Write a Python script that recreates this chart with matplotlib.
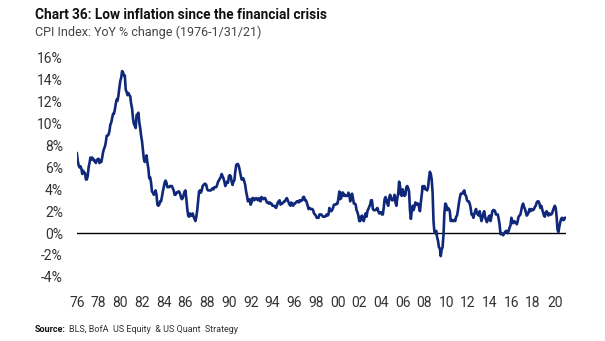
import numpy as np
import matplotlib
matplotlib.use("Agg")
import matplotlib.pyplot as plt

# CPI YoY % change, monthly, Jan 1976 - Jan 2021
cpi_1970s = [
    7.3, 6.6, 6.2, 6.0, 6.1, 5.9, 5.4, 5.7, 5.5, 5.5, 4.9, 4.9,   # 1976
    5.2, 6.0, 6.4, 6.9, 6.7, 6.9, 6.8, 6.6, 6.6, 6.4, 6.7, 6.7,   # 1977
    6.8, 6.4, 6.6, 6.5, 6.9, 7.4, 7.7, 7.9, 8.3, 8.9, 8.9, 9.0,   # 1978
    9.3, 9.9, 10.1, 10.5, 10.9, 10.9, 11.3, 11.8, 12.2, 12.1, 12.6, 13.3,  # 1979
]
cpi_1980s = [
    13.9, 14.2, 14.8, 14.7, 14.4, 14.4, 13.1, 12.9, 12.6, 12.8, 12.6, 12.5,
    11.8, 11.4, 10.5, 10.0, 9.8, 9.6, 10.8, 10.8, 11.0, 10.1, 9.6, 8.9,
    8.4, 7.6, 6.8, 6.5, 6.7, 7.1, 6.4, 5.9, 5.0, 5.1, 4.6, 3.8,
    3.7, 3.5, 3.6, 3.9, 3.5, 2.6, 2.5, 2.6, 2.9, 2.9, 3.3, 3.8,
    4.2, 4.6, 4.8, 4.6, 4.2, 4.2, 4.2, 4.3, 4.3, 4.3, 4.1, 3.9,
    3.5, 3.5, 3.7, 3.7, 3.8, 3.8, 3.6, 3.3, 3.1, 3.2, 3.5, 3.8,
    3.9, 3.1, 2.2, 1.6, 1.5, 1.8, 1.6, 1.6, 1.8, 1.5, 1.3, 1.1,
    1.5, 2.1, 3.0, 3.8, 3.9, 3.7, 3.9, 4.3, 4.4, 4.5, 4.5, 4.4,
    4.0, 3.9, 3.9, 3.9, 3.9, 4.0, 4.1, 4.0, 4.2, 4.2, 4.2, 4.4,
    4.7, 4.8, 5.0, 5.1, 5.4, 5.2, 5.0, 4.7, 4.3, 4.5, 4.7, 4.6,
]
cpi_1990s = [
    5.2, 5.3, 5.2, 4.7, 4.4, 4.7, 4.8, 5.6, 6.2, 6.3, 6.3, 6.1,
    5.7, 5.3, 4.9, 4.9, 5.0, 4.7, 4.4, 3.8, 3.4, 2.9, 3.0, 3.1,
    2.6, 2.8, 3.2, 3.2, 3.0, 3.1, 3.2, 3.1, 3.0, 3.2, 3.0, 2.9,
    3.3, 3.2, 3.1, 3.2, 3.2, 3.0, 2.8, 2.8, 2.7, 2.8, 2.7, 2.7,
    2.5, 2.5, 2.5, 2.4, 2.3, 2.5, 2.8, 2.9, 3.0, 2.6, 2.7, 2.7,
    2.8, 2.9, 2.9, 3.1, 3.2, 3.0, 2.8, 2.6, 2.5, 2.8, 2.6, 2.5,
    2.7, 2.7, 2.8, 2.9, 2.9, 2.8, 3.0, 2.9, 3.0, 3.0, 3.3, 3.3,
    3.0, 3.0, 2.8, 2.5, 2.2, 2.3, 2.2, 2.2, 2.2, 2.1, 1.8, 1.7,
    1.6, 1.4, 1.4, 1.4, 1.7, 1.7, 1.7, 1.6, 1.5, 1.5, 1.5, 1.6,
    1.7, 1.6, 1.7, 2.3, 2.1, 2.0, 2.1, 2.3, 2.6, 2.6, 2.6, 2.7,
]
cpi_2000s = [
    2.7, 3.2, 3.8, 3.1, 3.2, 3.7, 3.7, 3.4, 3.5, 3.4, 3.4, 3.4,
    3.7, 3.5, 2.9, 3.3, 3.6, 3.2, 2.7, 2.7, 2.6, 2.1, 1.9, 1.6,
    1.1, 1.1, 1.5, 1.6, 1.2, 1.1, 1.5, 1.8, 1.5, 2.0, 2.2, 2.4,
    2.6, 3.0, 3.0, 2.2, 2.1, 2.1, 2.1, 2.2, 2.3, 2.0, 1.8, 1.9,
    1.9, 1.7, 1.7, 2.3, 3.1, 3.3, 3.0, 2.7, 2.5, 3.2, 3.5, 3.3,
    3.0, 3.0, 3.1, 3.5, 2.8, 2.5, 3.2, 3.6, 4.7, 4.3, 3.5, 3.4,
    4.0, 3.6, 3.4, 3.5, 4.2, 4.3, 4.1, 3.8, 2.1, 1.3, 2.0, 2.5,
    2.1, 2.4, 2.8, 2.6, 2.7, 2.7, 2.4, 2.0, 2.8, 3.5, 4.3, 4.1,
    4.3, 4.0, 4.0, 3.9, 4.2, 5.0, 5.6, 5.4, 4.9, 3.7, 1.1, 0.1,
    0.0, 0.2, -0.4, -0.7, -1.3, -1.4, -2.1, -1.5, -1.3, -0.2, 1.8, 2.7,
]
cpi_2010s = [
    2.6, 2.1, 2.3, 2.2, 2.0, 1.1, 1.2, 1.1, 1.1, 1.2, 1.1, 1.5,
    1.6, 2.1, 2.7, 3.2, 3.6, 3.6, 3.6, 3.8, 3.9, 3.5, 3.4, 3.0,
    2.9, 2.9, 2.7, 2.3, 1.7, 1.7, 1.4, 1.7, 2.0, 2.2, 1.8, 1.7,
    1.6, 2.0, 1.5, 1.1, 1.4, 1.8, 2.0, 1.5, 1.2, 1.0, 1.2, 1.5,
    1.6, 1.1, 1.5, 2.0, 2.1, 2.1, 2.0, 1.7, 1.7, 1.7, 1.3, 0.8,
    -0.1, 0.0, -0.1, -0.2, 0.0, 0.1, 0.2, 0.2, 0.0, 0.2, 0.5, 0.7,
    1.4, 1.0, 0.9, 1.1, 1.0, 1.0, 0.8, 1.1, 1.5, 1.6, 1.7, 2.1,
    2.5, 2.7, 2.4, 2.2, 1.9, 1.6, 1.7, 1.9, 2.2, 2.0, 2.2, 2.1,
    2.1, 2.2, 2.4, 2.5, 2.8, 2.9, 2.9, 2.7, 2.3, 2.5, 2.2, 1.9,
    1.6, 1.5, 1.9, 2.0, 1.8, 1.6, 1.8, 1.7, 1.7, 1.8, 2.1, 2.3,
]
cpi_2020s = [
    2.5, 2.3, 1.5, 0.3, 0.1, 0.6, 1.0, 1.3, 1.4, 1.2, 1.2, 1.4,
    1.4,
]

start_year = 1976
tick_years = list(range(1976, 2021, 2))
tick_labels = [f"{y % 100:02d}" for y in tick_years]
y_ticks = list(range(-4, 17, 2))

cpi = np.array(cpi_1970s + cpi_1980s + cpi_1990s + cpi_2000s + cpi_2010s + cpi_2020s)
t = start_year + np.arange(len(cpi)) / 12.0

navy = "#10287a"
plt.rcParams["font.family"] = ["Roboto", "DejaVu Sans"]

fig = plt.figure(figsize=(6.05, 3.41), dpi=100)
ax = fig.add_axes([0.127, 0.188, 0.808, 0.642])

ax.plot(t, cpi, color=navy, lw=1.9, solid_joinstyle="round")
ax.axhline(0, color="black", lw=1.0, zorder=0)

ax.set_xlim(start_year, t[-1])
ax.set_ylim(-4, 16)
ax.set_yticks(y_ticks)
ax.set_yticklabels([f"{v}%" for v in y_ticks], fontsize=10, color="#333333")
ax.set_xticks(tick_years)
ax.set_xticklabels(tick_labels, fontsize=10, color="#333333")
ax.tick_params(axis="y", length=0, pad=10)
ax.tick_params(axis="x", length=0, pad=14)
for s in ax.spines.values():
    s.set_visible(False)

fig.text(0.058, 0.955, "Chart 36: Low inflation since the financial crisis",
         fontsize=9.8, fontweight="bold", color="#111111", va="center")
fig.text(0.058, 0.905, "CPI Index: YoY % change (1976-1/31/21)",
         fontsize=9, color="#444444", va="center")
fig.text(0.058, 0.035, "Source:", fontsize=6.5, fontweight="bold", color="#111111", va="center")
fig.text(0.114, 0.035, "BLS, BofA  US Equity  & US Quant  Strategy",
         fontsize=6.5, color="#333333", va="center")

fig.savefig("out.png", dpi=100)
